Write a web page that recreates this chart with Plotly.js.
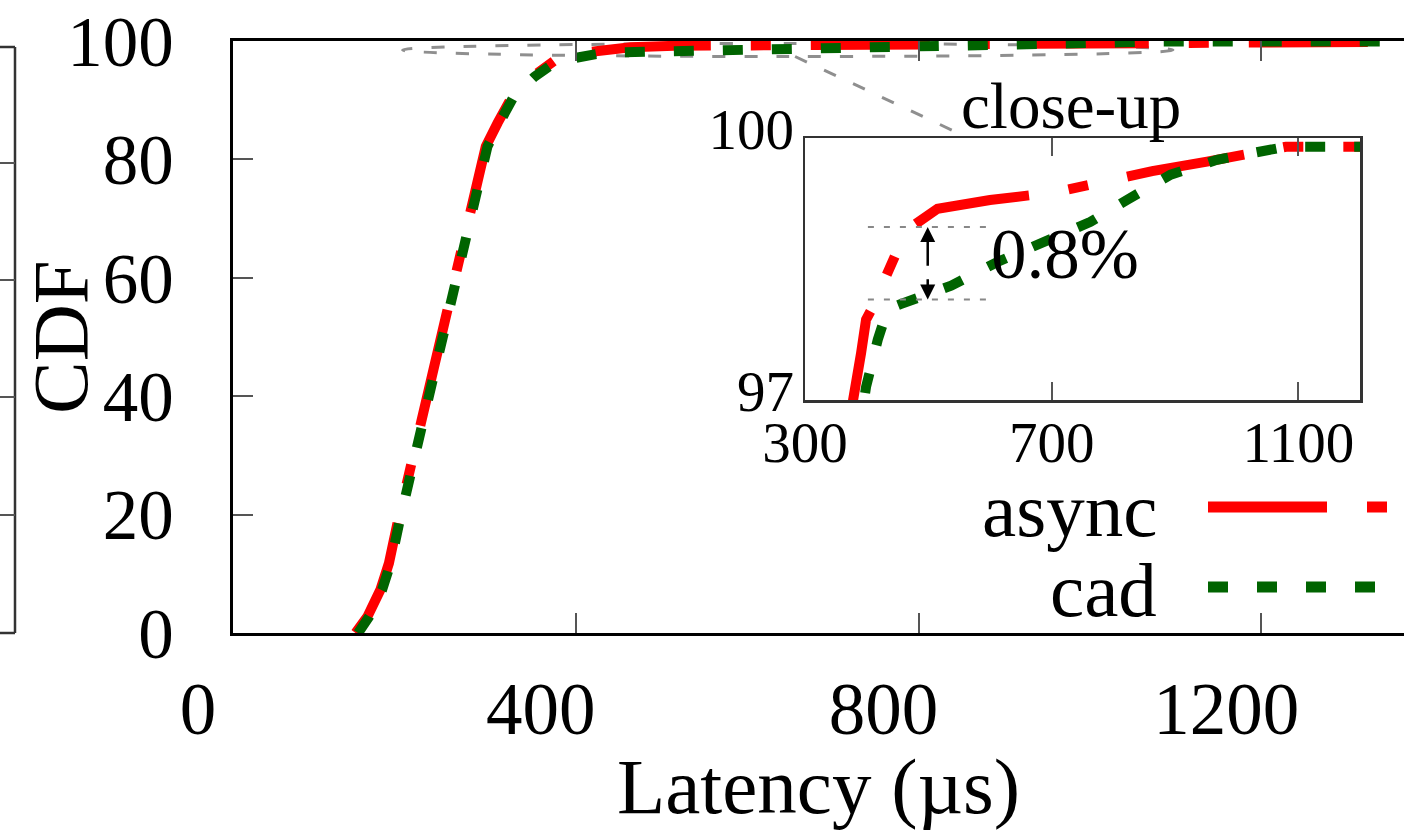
<!DOCTYPE html>
<html>
<head>
<meta charset="utf-8">
<script src="https://cdn.plot.ly/plotly-3.0.1.min.js"></script>
<style>html,body{margin:0;padding:0;background:#fff;overflow:hidden}#chart{width:1404px;height:830px}</style>
</head>
<body>
<div id="chart"></div>
<script>
// ---- data (latency in µs, CDF in %) ----
const asyncX = [143, 157, 172, 182, 192, 204, 217, 227, 239, 250, 264, 278, 295, 309, 326, 350, 366, 378, 391, 399, 408, 426, 453, 464, 515, 600, 707, 769, 798, 863, 952, 1050, 1080, 1400];
const asyncY = [0, 2.8, 7.3, 11.8, 18.6, 25.9, 33.8, 41.6, 49.0, 55.2, 63.6, 72.1, 82.2, 86.2, 90.7, 94.0, 96.0, 97.0, 97.54, 97.92, 98.04, 98.31, 98.77, 98.94, 99.19, 99.29, 99.38, 99.48, 99.52, 99.62, 99.73, 99.85, 99.9, 99.9];
const cadX = [146, 159, 174, 184, 194, 206, 219, 229, 241, 252, 266, 280, 297, 311, 328, 352, 370, 394, 399, 418, 434, 456, 537, 612, 763, 822, 882, 893, 968, 1050, 1080, 1400];
const cadY = [0, 2.8, 7.3, 11.8, 18.6, 25.9, 33.8, 41.6, 49.0, 55.2, 63.6, 72.1, 82.2, 86.2, 90.7, 94.0, 95.8, 97.0, 97.15, 97.69, 98.04, 98.1, 98.31, 98.58, 99.04, 99.29, 99.54, 99.58, 99.75, 99.88, 99.9, 99.9];
const seriesNames = ["async", "cad"];
const xTicks = [0, 400, 800, 1200];
const yTicks = [0, 20, 40, 60, 80, 100];
const insetXTicks = [300, 700, 1100];
const insetYTicks = [97, 100];
const gapLevels = [98.98, 98.15];
const gapLabel = "0.8%";

// ---- styles ----
const RED = "#ff0000", GREEN = "#006400";
const redDash = "119px,40px,20px,40px";
const greenDash = "20px,29px";
const FONT = "Liberation Serif, Times New Roman, serif";

function tr(x, y, color, dash, xa, ya, name) {
  return {x: x, y: y, type: "scatter", mode: "lines", name: name, showlegend: false,
    xaxis: xa, yaxis: ya, line: {color: color, width: 10, dash: dash}, hoverinfo: "skip"};
}
const data = [
  tr(asyncX, asyncY, RED, redDash, "x", "y", seriesNames[0]),
  tr(cadX, cadY, GREEN, greenDash, "x", "y", seriesNames[1]),
  tr(asyncX, asyncY, RED, redDash, "x2", "y2", seriesNames[0]),
  tr(cadX, cadY, GREEN, greenDash, "x2", "y2", seriesNames[1])
];

const W = 1404, H = 830, L = 233, T = 41, B = 197;
const pw = W - L, ph = H - T - B;
const px = v => (v - L) / pw;          // pixel x -> paper
const py = v => (H - B - v) / ph;      // pixel y -> paper

const grayDash = {color: "#8f8f8f", width: 3, dash: "13px,19px"};
const frame = {color: "#333", width: 2.5};
const shapes = [
  // zoom-region ellipse and pointer
  {type: "circle", xref: "x", yref: "y", x0: 198, x1: 1097, y0: 97.38, y1: 99.58, line: grayDash, layer: "below"},
  {type: "line", xref: "x", yref: "y", x0: 656, y0: 97.38, x1: 850, y1: 84.2, line: grayDash, layer: "below"},
  // 0.8% guides
  {type: "line", xref: "x2", yref: "y2", x0: 402, x1: 601, y0: gapLevels[0], y1: gapLevels[0], line: {color: "#888", width: 2, dash: "6px,10px"}},
  {type: "line", xref: "x2", yref: "y2", x0: 402, x1: 601, y0: gapLevels[1], y1: gapLevels[1], line: {color: "#888", width: 2, dash: "6px,10px"}},
  // legend samples
  {type: "line", xref: "paper", yref: "paper", x0: px(1208), x1: px(1420), y0: py(507), y1: py(507), line: {color: RED, width: 11, dash: redDash}},
  {type: "line", xref: "paper", yref: "paper", x0: px(1208), x1: px(1420), y0: py(587), y1: py(587), line: {color: GREEN, width: 11, dash: greenDash}},
  // neighbouring panel edge (left)
  {type: "line", xref: "paper", yref: "paper", x0: px(15), x1: px(15), y0: py(47), y1: py(633), line: frame},
  {type: "line", xref: "paper", yref: "paper", x0: px(-2), x1: px(15), y0: py(47), y1: py(47), line: frame},
  {type: "line", xref: "paper", yref: "paper", x0: px(-2), x1: px(15), y0: py(633), y1: py(633), line: frame}
];
[163, 280, 397, 515].forEach(v => shapes.push({type: "line", xref: "paper", yref: "paper", x0: px(-2), x1: px(15), y0: py(v), y1: py(v), line: {color: "#555", width: 2}}));

const annotations = [
  {xref: "paper", yref: "paper", x: px(60), y: py(337), text: "CDF", textangle: -90, showarrow: false, xanchor: "center", yanchor: "middle", borderpad: 0, font: {family: FONT, size: 79, color: "#000"}},
  {xref: "paper", yref: "paper", x: px(1071), y: py(106), text: "close-up", showarrow: false, xanchor: "center", yanchor: "middle", font: {family: FONT, size: 65, color: "#000"}},
  {xref: "x2", yref: "y2", x: 721, y: 98.67, text: gapLabel, showarrow: false, xanchor: "center", yanchor: "middle", font: {family: FONT, size: 71, color: "#000"}},
  {xref: "x2", yref: "y2", axref: "x2", ayref: "y2", x: 499, y: gapLevels[0], ax: 499, ay: 98.52, text: "", showarrow: true, arrowhead: 2, arrowsize: 1.2, arrowwidth: 2.5, arrowcolor: "#000"},
  {xref: "x2", yref: "y2", axref: "x2", ayref: "y2", x: 499, y: gapLevels[1], ax: 499, ay: 98.40, text: "", showarrow: true, arrowhead: 2, arrowsize: 1.2, arrowwidth: 2.5, arrowcolor: "#000"},
  {xref: "paper", yref: "paper", x: px(1158), y: py(510), text: seriesNames[0], showarrow: false, xanchor: "right", yanchor: "middle", borderpad: 0, font: {family: FONT, size: 77, color: "#000"}},
  {xref: "paper", yref: "paper", x: px(1158), y: py(590), text: seriesNames[1], showarrow: false, xanchor: "right", yanchor: "middle", borderpad: 0, font: {family: FONT, size: 77, color: "#000"}}
];

const layout = {
  width: W, height: H,
  margin: {l: L, r: 0, t: T, b: B, pad: 0},
  paper_bgcolor: "#fff", plot_bgcolor: "rgba(0,0,0,0)",
  font: {family: FONT, color: "#000"},
  showlegend: false,
  xaxis: {range: [0, 1366.6], tickvals: xTicks, ticktext: xTicks.map(String), ticks: "inside", ticklen: 20, tickwidth: 2, tickcolor: "#555",
    showline: true, linecolor: "#000", linewidth: 3, mirror: "ticks", showgrid: false, zeroline: false,
    tickfont: {family: FONT, size: 73, color: "#000"}, ticklabelstandoff: 10, ticklabelshift: -35,
    title: {text: "Latency (µs)", font: {family: FONT, size: 79, color: "#000"}, standoff: 22}},
  yaxis: {range: [0, 100], tickvals: yTicks, ticktext: yTicks.map(String), ticks: "inside", ticklen: 20, tickwidth: 2, tickcolor: "#555",
    showline: true, linecolor: "#000", linewidth: 3, mirror: false, showgrid: false, zeroline: false,
    tickfont: {family: FONT, size: 71, color: "#000"}, ticklabelstandoff: 42},
  xaxis2: {domain: [px(805), px(1360)], anchor: "y2", range: [300, 1200], tickvals: insetXTicks, ticktext: insetXTicks.map(String),
    ticks: "inside", ticklen: 18, tickwidth: 2, tickcolor: "#555", showline: true, linecolor: "#333", linewidth: 2.5, mirror: "ticks",
    showgrid: false, zeroline: false, tickfont: {family: FONT, size: 57, color: "#000"}, ticklabelstandoff: -9},
  yaxis2: {domain: [py(400), py(138)], anchor: "x2", range: [97, 100], tickvals: insetYTicks, ticktext: insetYTicks.map(String),
    ticks: "inside", ticklen: 18, tickwidth: 2, tickcolor: "#555", showline: true, linecolor: "#333", linewidth: 2.5, mirror: "ticks",
    showgrid: false, zeroline: false, tickfont: {family: FONT, size: 57, color: "#000"}, ticklabelstandoff: -3, ticklabelshift: -9},
  shapes: shapes,
  annotations: annotations
};

Plotly.newPlot("chart", data, layout, {staticPlot: true, displayModeBar: false});
</script>
</body>
</html>
